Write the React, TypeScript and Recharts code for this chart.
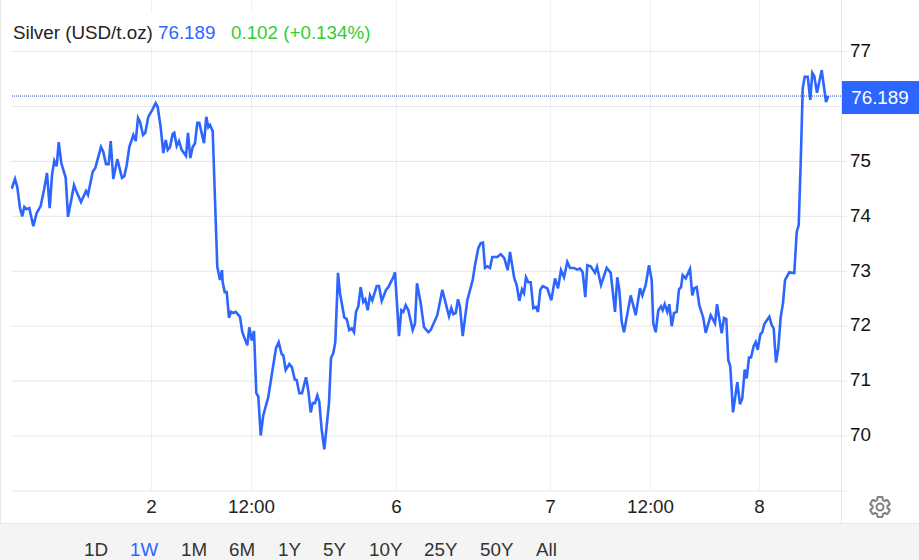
import React from "react";
import { ComposedChart, Line, XAxis, YAxis, CartesianGrid, ReferenceLine } from "recharts";

// Session time on a linear scale (1 unit = 7.2 minutes of trading time)
const sessionTime = [
  0.7,4,6.3,9,11.3,13.3,15.7,18.3,22.3,25.7,29.7,33,36,38.7,41,43.3,45.7,47.7,50.3,54.7,
  57,60.3,63,65.7,70,75,77,81.7,84.3,90,92.3,95,97.7,99.7,102.3,106.3,111,113.3,115.7,118.3,
  122.3,124.7,127,129,132,134.3,137.3,141.7,144.7,146.7,149.7,152.3,154.7,156.7,159,161.7,163.3,165.7,168,170.7,
  175,177,179.3,181.7,184,186.3,188.3,193,195.3,197.3,199,201.7,204,206.3,209,211,211.7,213.7,215.7,218,
  220,222.3,224.7,229,231.3,236.3,238.3,240.7,243,245.3,247.3,249.7,252.3,257.3,260.7,265,267.7,270.7,272.3,274.7,
  278.3,281,283.7,285.7,288.3,291,295,297.3,299.7,301.7,304,306.3,308.3,310.7,313.3,318,320,322.3,324.3,327,
  329,333.3,335.7,338.3,340.7,343,345,347.3,349.7,352.3,354.3,356.7,359,361.3,365.7,368,370.7,375,377.3,382.3,
  384,388,390.3,392.3,394.7,397.3,401.7,404,406,409.7,413,417.3,419.7,426.3,431.3,438,440.3,442.3,444.7,447,
  449,451.7,456.3,461.7,464,467.3,469.7,472,474,476.3,479,481.3,486.3,489.7,493.3,496.7,499,503.3,505.7,508.3,
  511,513,515,517.3,519.7,522.3,525,527,529.3,531.7,536.3,540.3,544,547,550,553,556.3,559,563,566,
  569,571.7,574.3,576.3,579.7,584,586,590,595.7,599.7,604,606.3,608.3,610.7,613,619.7,624.7,629,631.3,634.7,
  638,640.7,642.3,644.7,647.3,650,651.7,653.7,656.3,658.3,660.7,663,665.7,668,670,671.7,674.7,679,681.3,683.3,
  685.7,688.3,692.3,694.7,699.7,704,706,710.7,713,715.3,717.3,719.3,722,726.3,729,731.3,733.7,735.7,738,740,
  742.7,744.7,746.7,749.3,751.3,753.3,758.3,760.7,762.7,765,767.3,769.7,772,774,778.3,781,783.3,785.7,787.7,789.7,
  791.7,793.7,796.7,799.3,801.3,803.3,806,810.7,815,817.3
];

const silverPrice = [
  74.50,74.68,74.53,74.15,74.00,74.17,74.13,74.15,73.82,74.06,74.19,74.48,74.79,74.15,74.75,75.01,74.91,75.35,74.97,74.70,
  73.99,74.30,74.57,74.44,74.26,74.46,74.39,74.81,74.88,75.26,75.17,74.95,74.95,75.37,74.68,75.04,74.70,74.73,74.93,75.26,
  75.48,75.37,75.79,75.72,75.48,75.52,75.81,75.95,76.06,75.99,75.62,75.15,75.39,75.21,75.26,75.50,75.52,75.28,75.37,75.21,
  75.10,75.52,75.06,75.26,75.33,75.70,75.70,75.33,75.81,75.62,75.66,75.55,74.30,73.08,72.84,73.02,72.80,72.62,72.62,72.15,
  72.26,72.24,72.26,72.17,71.89,71.65,71.98,71.74,71.91,70.78,70.72,70.01,70.38,70.71,71.11,71.60,71.71,71.49,71.47,71.20,
  71.31,71.25,71.03,71.02,70.78,70.78,71.07,70.83,70.43,70.60,70.60,70.74,70.62,70.11,69.76,70.60,71.42,71.51,71.71,72.97,
  72.60,72.16,72.13,71.93,71.96,71.89,72.26,72.36,72.71,72.44,72.49,72.29,72.56,72.47,72.73,72.73,72.46,72.66,72.71,72.89,
  72.98,71.82,72.29,72.26,72.38,72.29,71.93,72.05,72.78,72.42,71.98,71.89,71.93,72.20,72.66,72.18,72.33,72.22,72.24,72.49,
  72.35,71.82,72.47,72.84,73.11,73.42,73.51,73.52,73.06,73.09,73.06,73.26,73.26,73.31,73.24,73.02,73.35,72.87,72.75,72.46,
  72.67,72.60,72.89,72.80,72.80,72.33,72.35,72.26,72.66,72.73,72.69,72.47,72.87,72.69,73.02,72.89,73.17,73.06,73.06,73.03,
  73.05,72.98,72.53,73.11,73.09,72.97,73.08,72.75,73.06,72.97,72.26,72.89,72.66,72.08,71.89,72.56,72.20,72.69,72.56,72.75,
  73.11,72.84,72.05,71.89,72.29,72.36,72.29,72.40,72.26,72.40,72.00,72.24,72.26,72.67,72.71,72.93,72.87,73.04,72.56,72.69,
  72.71,72.38,72.15,71.88,72.20,72.05,72.40,71.87,72.15,72.13,71.38,71.27,70.43,70.98,70.58,70.69,71.21,71.05,71.43,71.43,
  71.64,71.71,71.57,71.85,71.89,72.04,72.17,72.02,71.96,71.34,71.60,72.17,72.42,72.84,72.98,72.97,72.97,73.71,73.84,74.97,
  76.33,76.54,76.54,76.12,76.61,76.55,76.25,76.66,76.08,76.19
];

const chartRows = silverPrice.map((price, i) => ({ time: sessionTime[i], price }));

const priceTicks = [69, 70, 71, 72, 73, 74, 75, 76, 77];
const unlabeledPrices = [69, 76];
const timeTicks = [140.5, 240.5, 385.5, 539.5, 639.5, 748.5];
const timeLabels = ["2", "12:00", "6", "7", "12:00", "8"];
const ranges = ["1D", "1W", "1M", "6M", "1Y", "5Y", "10Y", "25Y", "50Y", "All"];
const rangeLeft = [84, 130, 181, 229, 278, 323, 369, 424, 480, 536];
const lastPrice = 76.189;
const lastPriceText = "76.189";
const changeText = "0.102 (+0.134%)";

const BLUE = "#2d65ff";
const GRID = "#e6e6e6";
const FONT = '"Liberation Sans", Arial, sans-serif';
const FS = 18.8;

function PriceTag({ viewBox }: any) {
  const y = viewBox.y;
  return (
    <g>
      <rect x={842} y={y - 15} width={77} height={33} fill={BLUE} />
      <text x={880} y={y + 8} textAnchor="middle" fill="#fff" fontSize={FS} fontFamily={FONT}>{lastPriceText}</text>
    </g>
  );
}

function PriceTick({ x, y, payload }: any) {
  const value = payload.value;
  if (value === 76) return <g />;
  return (
    <g>
      <line x1={x - 8} x2={x - 3} y1={y} y2={y} stroke={GRID} />
      {unlabeledPrices.includes(value) ? null : (
        <text x={x} y={y + 5.3} textAnchor="start" fill="#111" fontSize={FS} fontFamily={FONT}>{value}</text>
      )}
    </g>
  );
}

export default function App() {
  return (
    <div style={{ position: "fixed", left: 0, top: 0, width: 919, height: 560, overflow: "hidden", background: "#fff", fontFamily: FONT }}>
      <ComposedChart width={919} height={560} data={chartRows} margin={{ top: 0, left: 11, right: 0, bottom: 0 }}>
        <CartesianGrid horizontal={false} stroke="#eef1f6" syncWithTicks />
        <CartesianGrid vertical={false} stroke={GRID} syncWithTicks />
        <XAxis
          dataKey="time"
          type="number"
          domain={[0, 830]}
          ticks={timeTicks}
          interval={0}
          allowDataOverflow
          tickLine={false}
          axisLine={false}
          height={69}
          tickMargin={3}
          tick={{ fill: "#222", fontSize: FS, fontFamily: FONT }}
          tickFormatter={(v: number) => timeLabels[timeTicks.indexOf(v)]}
        />
        <YAxis
          orientation="right"
          type="number"
          domain={[69, 77.937]}
          ticks={priceTicks}
          interval={0}
          allowDataOverflow
          width={78}
          axisLine={false}
          tickLine={{ stroke: "none" }}
          tickSize={6}
          tickMargin={3}
          tick={<PriceTick />}
        />
        <Line dataKey="price" type="linear" stroke={BLUE} strokeWidth={2.6} dot={false} isAnimationActive={false} />
        <ReferenceLine y={lastPrice} stroke="#1f4fd6" strokeWidth={1} strokeDasharray="1 1" label={<PriceTag />} ifOverflow="visible" />
      </ComposedChart>

      <div style={{ position: "absolute", left: 0, top: 0, width: 1, height: 523, background: GRID }} />
      <div style={{ position: "absolute", left: 841, top: 0, width: 1, height: 523, background: GRID }} />

      <div style={{ position: "absolute", left: 11, top: 13, width: 370, height: 34, background: "#fff", fontSize: FS, lineHeight: "39px", whiteSpace: "nowrap" }}>
        <span style={{ position: "absolute", left: 2, color: "#222" }}>Silver (USD/t.oz)</span>
        <span style={{ position: "absolute", left: 147, color: BLUE }}>{lastPriceText}</span>
        <span style={{ position: "absolute", left: 220, color: "#33cc33" }}>{changeText}</span>
      </div>

      <svg width={24} height={24} viewBox="0 0 24 24" style={{ position: "absolute", left: 868, top: 495 }}>
        <path
          fill="none"
          stroke="#808080"
          strokeWidth={2}
          d="M19.43 12.98c.04-.32.07-.64.07-.98s-.03-.66-.07-.98l2.11-1.65c.19-.15.24-.42.12-.64l-2-3.46c-.12-.22-.39-.3-.61-.22l-2.49 1c-.52-.4-1.08-.73-1.69-.98l-.38-2.65C14.46 2.18 14.25 2 14 2h-4c-.25 0-.46.18-.49.42l-.38 2.65c-.61.25-1.17.59-1.69.98l-2.49-1c-.23-.09-.49 0-.61.22l-2 3.46c-.13.22-.07.49.12.64l2.11 1.65c-.04.32-.07.65-.07.98s.03.66.07.98l-2.11 1.65c-.19.15-.24.42-.12.64l2 3.46c.12.22.39.3.61.22l2.49-1c.52.4 1.08.73 1.69.98l.38 2.65c.03.24.24.42.49.42h4c.25 0 .46-.18.49-.42l.38-2.65c.61-.25 1.17-.59 1.69-.98l2.49 1c.23.09.49 0 .61-.22l2-3.46c.12-.22.07-.49-.12-.64l-2.11-1.65zM12 15.5c-1.93 0-3.5-1.57-3.5-3.5s1.57-3.5 3.5-3.5 3.5 1.57 3.5 3.5-1.57 3.5-3.5 3.5z"
        />
      </svg>

      <div style={{ position: "absolute", left: 0, top: 523, width: 919, height: 37, background: "#f4f4f4", borderTop: "1px solid #e6e6e6", boxSizing: "border-box", overflow: "hidden" }}>
        {ranges.map((r, i) => (
          <span key={r} style={{ position: "absolute", left: rangeLeft[i], top: 15, fontSize: FS, lineHeight: "22px", color: r === "1W" ? BLUE : "#333" }}>{r}</span>
        ))}
      </div>
    </div>
  );
}
